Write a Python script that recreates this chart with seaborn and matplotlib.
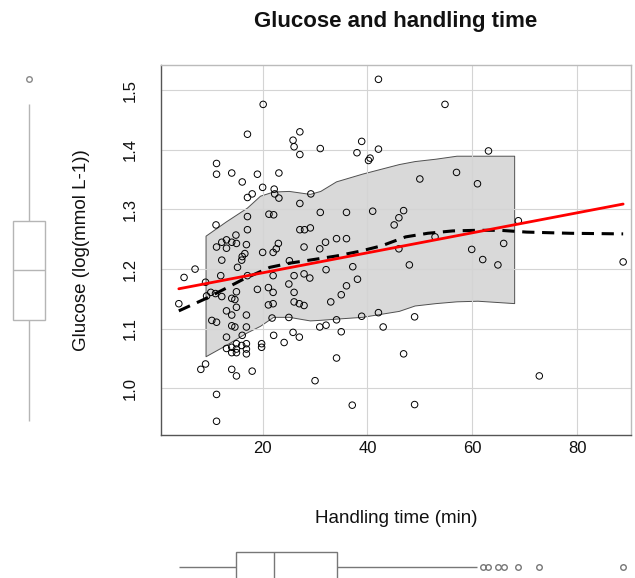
import pandas as pd
import seaborn as sns
import matplotlib.pyplot as plt

# ===========================
# data
# ===========================
handling_time = [
    42.1, 20.1, 54.8, 17.1, 27.1, 25.8, 26.0, 27.1, 31.0, 38.9, 38.0, 40.2, 40.5, 42.1, 63.1,
    11.2, 11.2, 14.1, 19.0, 23.1, 16.1, 20.0, 22.2, 22.3, 18.0, 17.1, 23.1, 29.2, 27.1, 50.0, 57.0, 61.0,
    21.2, 22.1, 17.1, 31.0, 36.0, 41.0, 46.9, 46.0, 45.1, 68.8, 11.1, 17.1, 27.1, 28.0, 29.1,
    14.9, 13.1, 12.2, 11.2, 13.1, 14.1, 15.0, 16.9, 16.6, 16.1, 16.0, 15.2, 12.2, 20.0, 22.0,
    23.0, 22.6, 27.9, 30.9, 32.0, 34.1, 36.0, 46.0, 52.9, 59.9, 66.0, 62.0, 48.0, 64.9, 88.8,
    7.1, 5.0, 4.0, 25.1, 37.2, 32.1, 12.0, 17.1, 9.1, 9.3, 10.1, 11.0, 12.2, 19.0, 15.0, 14.1,
    14.7, 15.0, 13.1, 14.1, 16.9,
    21.1, 22.0, 21.1, 22.0, 21.8, 22.1, 10.3, 11.2, 14.1, 14.7, 16.9, 13.1, 16.1,
    15.0, 16.0, 16.9, 14.1, 15.0, 16.9, 14.1, 15.0, 16.9, 13.1, 19.8, 19.8, 24.1, 25.8, 27.0,
    8.2, 9.1, 14.1, 15.0, 18.0, 11.2, 11.2, 30.0, 34.1, 37.1, 49.0, 46.9, 72.8, 49.0, 43.0, 42.1, 38.9,
    30.9, 32.1, 34.1, 35.0,
    26.0, 27.9, 29.0, 25.0, 38.1, 36.0, 35.0, 26.0, 33.0, 26.0, 27.0, 27.9, 25.0, 22.0,
]
glucose = [
    1.518, 1.476, 1.476, 1.426, 1.430, 1.416, 1.405, 1.392, 1.402, 1.414, 1.395, 1.382, 1.386, 1.401, 1.398,
    1.377, 1.359, 1.361, 1.359, 1.361, 1.346, 1.337, 1.334, 1.326, 1.326, 1.320, 1.319, 1.326, 1.310, 1.351, 1.362, 1.343,
    1.292, 1.291, 1.288, 1.295, 1.295, 1.297, 1.298, 1.286, 1.274, 1.281, 1.274, 1.266, 1.266, 1.266, 1.269,
    1.257, 1.249, 1.245, 1.237, 1.235, 1.245, 1.243, 1.241, 1.226, 1.221, 1.215, 1.203, 1.215, 1.228, 1.228,
    1.243, 1.234, 1.237, 1.234, 1.245, 1.251, 1.251, 1.234, 1.254, 1.233, 1.243, 1.216, 1.207, 1.207, 1.212,
    1.200, 1.186, 1.142, 1.214, 1.204, 1.199, 1.189, 1.189, 1.178, 1.155, 1.161, 1.159, 1.154, 1.166, 1.162, 1.151,
    1.149, 1.136, 1.130, 1.123, 1.123,
    1.169, 1.161, 1.140, 1.142, 1.118, 1.089, 1.114, 1.111, 1.105, 1.103, 1.103, 1.086, 1.089,
    1.075, 1.072, 1.075, 1.069, 1.066, 1.066, 1.060, 1.060, 1.058, 1.067, 1.075, 1.069, 1.077, 1.094, 1.086,
    1.032, 1.041, 1.032, 1.021, 1.029, 0.990, 0.945, 1.013, 1.051, 0.972, 0.973, 1.058, 1.021, 1.120, 1.103, 1.127, 1.121,
    1.103, 1.106, 1.115, 1.095,
    1.189, 1.192, 1.185, 1.175, 1.183, 1.172, 1.157, 1.161, 1.145, 1.145, 1.142, 1.139, 1.119, 1.189,
]

# linear fit (red)
fit_x = [4.0, 88.8]
fit_y = [1.167, 1.309]

# smoother (dashed)
smooth_x = [4.0, 9.0, 12.8, 16.3, 21.4, 25.2, 29.7, 34.1, 38.6, 42.7, 47.3, 51.5, 56.3, 60.9, 65.3, 70.4, 78.7, 88.8]
smooth_y = [1.130, 1.150, 1.167, 1.183, 1.203, 1.210, 1.216, 1.222, 1.230, 1.239, 1.254, 1.260, 1.264, 1.265,
            1.265, 1.262, 1.260, 1.259]

# spread band
band_x = [9.1, 13.0, 17.0, 19.5, 22.0, 25.0, 29.0, 31.0, 34.0, 39.0, 46.0, 49.0, 53.0, 57.0, 61.0, 68.0]
band_upper = [1.256, 1.280, 1.303, 1.323, 1.330, 1.331, 1.326, 1.331, 1.347, 1.360, 1.376, 1.381, 1.385, 1.390,
              1.390, 1.390]
band_lower = [1.054, 1.073, 1.094, 1.105, 1.120, 1.120, 1.114, 1.115, 1.117, 1.120, 1.130, 1.139, 1.143, 1.146,
              1.147, 1.143]

x_ticks = [20, 40, 60, 80]
y_ticks = [1.0, 1.1, 1.2, 1.3, 1.4, 1.5]
y_ticklabels = ["1.0", "1.1", "1.2", "1.3", "1.4", "1.5"]

xlim = (0.6, 90.3)
ylim = (0.922, 1.542)

# ===========================
# plot
# ===========================
sns.set_theme(style="white")
plt.rcParams["font.family"] = ["Liberation Sans", "DejaVu Sans"]

df = pd.DataFrame({"time": handling_time, "glucose": glucose})

W, H = 635, 578
fig = plt.figure(figsize=(W / 100, H / 100), dpi=100)
ax = fig.add_axes([161 / W, 1 - 435 / H, 470 / W, 370 / H])
ax_left = fig.add_axes([0, 1 - 435 / H, 58 / W, 370 / H])
ax_bot = fig.add_axes([161 / W, -16 / H, 470 / W, 54 / H])

# ---------- band + lines ----------
ax.fill_between(band_x, band_lower, band_upper, color="#d9d9d9", edgecolor="#505050",
                linewidth=0.7, zorder=0.3)

sns.scatterplot(data=df, x="time", y="glucose", ax=ax, marker="o", s=22,
                facecolors="none", edgecolor="black", linewidth=0.7, zorder=3)
ax.collections[-1].set_facecolor("none")

sns.lineplot(x=smooth_x, y=smooth_y, ax=ax, color="black", linewidth=2.2,
             linestyle=(0, (4, 2.5)), zorder=4)
sns.lineplot(x=fit_x, y=fit_y, ax=ax, color="red", linewidth=2.0, zorder=5)

ax.set_xlim(*xlim)
ax.set_ylim(*ylim)
ax.set_xticks(x_ticks)
ax.set_yticks(y_ticks)
ax.set_yticklabels(y_ticklabels, rotation=90, va="center")
ax.set_axisbelow(True)
ax.grid(True, color="#d4d4d4", linewidth=0.8)
ax.tick_params(axis="both", direction="out", width=0.9, color="#333333",
               labelsize=12, labelcolor="#111111")
ax.tick_params(axis="x", length=4, pad=0)
ax.tick_params(axis="y", length=7, pad=10)

for side in ["left", "bottom"]:
    ax.spines[side].set_color("#555555")
    ax.spines[side].set_linewidth(1.0)
for side in ["top", "right"]:
    ax.spines[side].set_color("#bbbbbb")
    ax.spines[side].set_linewidth(1.0)

ax.set_xlabel("Handling time (min)", fontsize=13.5, color="#111111")
ax.xaxis.set_label_coords(0.5, -(510 - 435) / 370)
ax.set_ylabel("Glucose (log(mmol L-1))", fontsize=13.5, color="#111111")
ax.yaxis.set_label_coords(-(161 - 90) / 470, 0.5)

fig.text(396 / W, 1 - 21 / H, "Glucose and handling time", ha="center", va="center",
         fontsize=16, fontweight="bold", color="#111111")

# ---------- marginal boxplots ----------
sns.boxplot(y=df["glucose"], ax=ax_left, width=0.55, color="white", linecolor="#b5b5b5",
            linewidth=1.0, showcaps=False, whis=1.4, fliersize=4,
            flierprops=dict(marker="o", markerfacecolor="none", markeredgecolor="#888888"))
ax_left.set_ylim(*ylim)
ax_left.set_xlim(-0.5, 0.5)
ax_left.axis("off")

sns.boxplot(x=df["time"], ax=ax_bot, width=0.57, color="white", linecolor="#777777",
            linewidth=1.0, showcaps=False, whis=1.45, fliersize=4,
            flierprops=dict(marker="o", markerfacecolor="none", markeredgecolor="#777777"))
ax_bot.set_xlim(*xlim)
ax_bot.set_ylim(0.5, -0.5)
ax_bot.axis("off")

fig.savefig("out.png", dpi=100)
